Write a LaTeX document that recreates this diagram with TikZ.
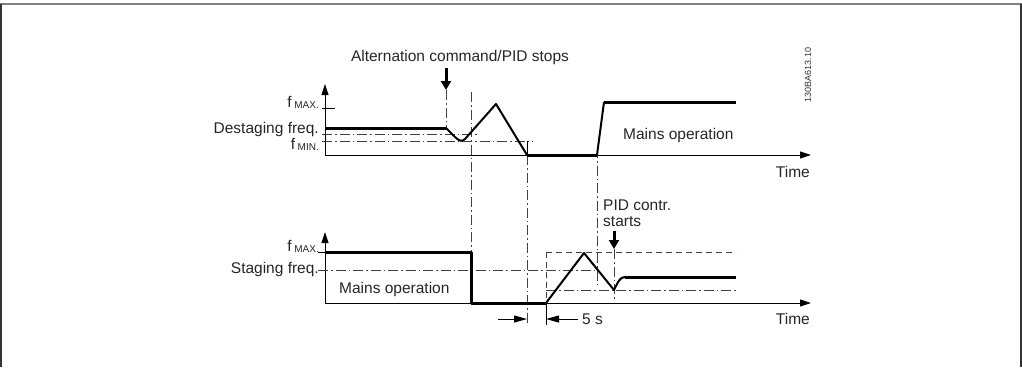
\documentclass[tikz,border=0pt]{standalone}
\usepackage{fontspec}
\setmainfont{Liberation Sans}
\usetikzlibrary{arrows.meta}

\newcommand{\flabel}[1]{f\,{\fontsize{10}{10}\selectfont\raisebox{-1.5pt}{#1}}}

\begin{document}
\begin{tikzpicture}[x=1pt,y=-1pt,
    axis/.style={line width=1pt,-{Triangle[length=11pt,width=7pt]}},
    heavy/.style={line width=3pt,line join=round},
    ramp/.style={line width=2pt,line join=round},
    guide/.style={line width=0.9pt,black!75,dash pattern=on 10pt off 3pt on 1.5pt off 3pt},
    limit/.style={line width=0.9pt,black!75,dash pattern=on 6pt off 4pt},
    cmd/.style={line width=3pt,-{Triangle[length=9pt,width=10pt]}},
    dim/.style={line width=1pt,-{Triangle[length=13pt,width=7pt]}},
    lbl/.style={font=\fontsize{15.5}{18}\selectfont,text=black!85,inner sep=0pt}]

    \useasboundingbox (0,0) rectangle (1022,367);

    % Frame
    \draw[black!50,line width=2pt] (0,4) -- (1022,4);
    \draw[black!80,line width=2pt] (1,4) -- (1,367);
    \draw[black!80,line width=2pt] (1021,4) -- (1021,367);

    % Draw axes
    \coordinate (o1) at (325,155);
    \coordinate (o2) at (325,303);
    \draw[axis] (o1) -- (325,84);
    \draw[axis] (o1) -- (811,155);
    \draw[axis] (o2) -- (325,232);
    \draw[axis] (o2) -- (811,303);

    % Labels upper graph
    \node[lbl,anchor=base] (title) at (460,61) {Alternation command/PID stops};
    \node[lbl,anchor=base east] (fmax1) at (319,107) {\flabel{MAX.}};
    \node[lbl,anchor=base east] (destage) at (319,133) {Destaging freq.};
    \node[lbl,anchor=base east] (fmin1) at (319,149) {\flabel{MIN.}};
    \node[lbl,anchor=base west] (mains1) at (623,139) {Mains operation};
    \node[lbl,anchor=base east] (time1) at (810,177) {Time};
    \node[font=\fontsize{9}{10}\selectfont,text=black!80,rotate=90,inner sep=0pt] (code) at (808,75) {130BA613.10};

    % Labels lower graph
    \node[lbl,anchor=base east] (fmax2) at (319,251) {\flabel{MAX.}};
    \node[lbl,anchor=base east] (stage) at (319,273) {Staging freq.};
    \node[lbl,anchor=base west] (mains2) at (339,293) {Mains operation};
    \node[lbl,anchor=base west] (pid1) at (603,210) {PID contr.};
    \node[lbl,anchor=base west] (pid2) at (603,226) {starts};
    \node[lbl,anchor=base west] (delay) at (582,324) {5 s};
    \node[lbl,anchor=base east] (time2) at (810,324) {Time};

    % Ticks and levels
    \draw[line width=1pt] (322,108) -- (335,108);
    \draw[line width=1pt] (318,252) -- (325,252);
    \draw[guide] (322,134) -- (478,134);
    \draw[guide] (322,141) -- (533,141);
    \draw[guide] (318,270) -- (597,270);
    \draw[limit] (546,252) -- (736,252);
    \draw[limit] (546,252) -- (546,303);
    \draw[guide] (546,290) -- (736,290);
    \draw[line width=1pt] (527,141) -- (527,155);

    % Vertical guides
    \draw[guide] (446,90) -- (446,128);
    \draw[guide] (471,92) -- (471,252);
    \draw[guide] (527,155) -- (527,325);
    \draw[guide] (597,148) -- (597,287);
    \draw[guide] (614,249) -- (614,300);
    \draw[line width=1pt] (546,303) -- (546,325);

    % Upper curve
    \draw[heavy] (o1 |- 0,128) -- (446,128);
    \draw[ramp] (446,128) -- (455,137) .. controls (459,141) and (462,142) .. (465,139)
        -- (496,104) -- (527,155);
    \draw[heavy] (527,155) -- (597,155);
    \draw[ramp] (597,155) -- (604,102);
    \draw[heavy] (604,102) -- (736,102);

    % Lower curve
    \draw[heavy] (o2 |- 0,252) -- (471,252) -- (471,303) -- (546,303);
    \draw[ramp] (546,303) -- (584,253) -- (614,290) .. controls (618,282) and (620,277) .. (625,277);
    \draw[heavy] (625,277) -- (736,277);

    % Command arrows
    \draw[cmd] (446,68) -- (446,90);
    \draw[cmd] (614,231) -- (614,249);

    % 5 s delay
    \draw[dim] (498,319) -- (527,319);
    \draw[dim] (578,319) -- (546,319);
\end{tikzpicture}
\end{document}
